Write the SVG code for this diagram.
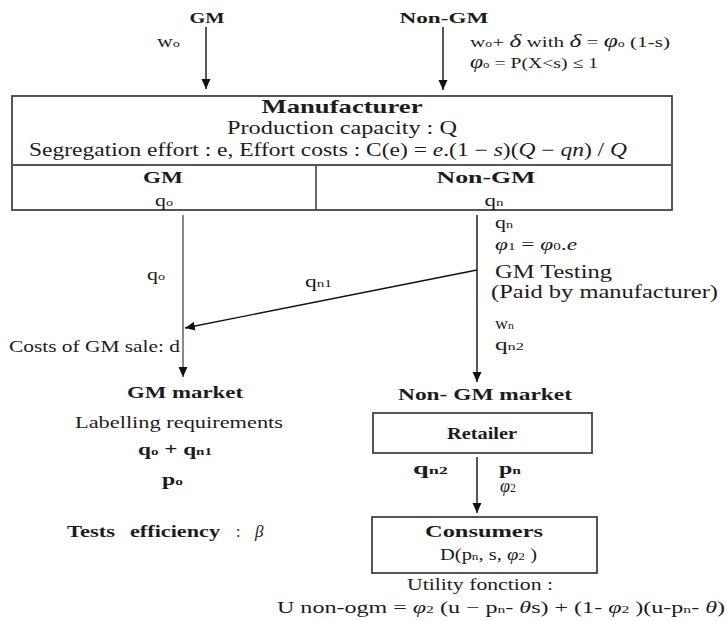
<svg xmlns="http://www.w3.org/2000/svg" width="728" height="621" viewBox="0 0 728 621">
<style>
text{font-family:"Liberation Serif","Times New Roman",serif;fill:#1c1c1c}
.b{font-weight:bold}
.i{font-style:italic}
.s{font-size:65%}
.box{fill:#fff;stroke:#444;stroke-width:1.8}
.div{stroke:#555;stroke-width:1.8}
.c{stroke:#111;stroke-width:1.4;fill:none}
.g{stroke:#8a8a8a;stroke-width:2;fill:none}
</style>
<defs>
<marker id="ah" markerUnits="userSpaceOnUse" markerWidth="10" markerHeight="10" refX="10" refY="5" orient="auto">
<path d="M0,0.5 L10,5 L0,9.5 z" fill="#111"/>
</marker>
</defs>
<rect width="728" height="621" fill="#fff"/>

<g id="gm-source">
<text class="b" x="207" y="23" font-size="14" text-anchor="middle" textLength="35" lengthAdjust="spacingAndGlyphs">GM</text>
</g>
<g id="nongm-source">
<text class="b" x="444" y="23" font-size="14" text-anchor="middle" textLength="89" lengthAdjust="spacingAndGlyphs">Non-GM</text>
</g>

<g id="manufacturer">
<rect class="box" x="12" y="96" width="660" height="114"/>
<line class="div" x1="12" y1="165" x2="672" y2="165"/>
<line class="div" x1="316" y1="165" x2="316" y2="210"/>
<text class="b" x="342" y="113" font-size="19" text-anchor="middle" textLength="161" lengthAdjust="spacingAndGlyphs">Manufacturer</text>
<text x="342" y="134" font-size="18" text-anchor="middle" textLength="230" lengthAdjust="spacingAndGlyphs">Production capacity : Q</text>
<text x="29" y="156" font-size="18" textLength="598" lengthAdjust="spacingAndGlyphs">Segregation effort : e, Effort costs : C(e) = <tspan class="i">e</tspan>.(1 − <tspan class="i">s</tspan>)(<tspan class="i">Q</tspan> − <tspan class="i">qn</tspan>) / <tspan class="i">Q</tspan></text>
<text class="b" x="163" y="183" font-size="17" text-anchor="middle" textLength="40" lengthAdjust="spacingAndGlyphs">GM</text>
<text x="164" y="206" font-size="17" text-anchor="middle" textLength="18" lengthAdjust="spacingAndGlyphs">q<tspan class="s">o</tspan></text>
<text class="b" x="486" y="183" font-size="17" text-anchor="middle" textLength="99" lengthAdjust="spacingAndGlyphs">Non-GM</text>
<text x="494" y="206" font-size="17" text-anchor="middle" textLength="19" lengthAdjust="spacingAndGlyphs">q<tspan class="s">n</tspan></text>
</g>

<g id="gm-market">
<text class="b" x="185" y="398" font-size="16" text-anchor="middle" textLength="116" lengthAdjust="spacingAndGlyphs">GM market</text>
<text x="75" y="428" font-size="16" textLength="208" lengthAdjust="spacingAndGlyphs">Labelling requirements</text>
<text class="b" x="138" y="455" font-size="16" textLength="74" lengthAdjust="spacingAndGlyphs">q<tspan class="s">o</tspan> + q<tspan class="s">n1</tspan></text>
<text class="b" x="162" y="485" font-size="16" textLength="21" lengthAdjust="spacingAndGlyphs">p<tspan class="s">o</tspan></text>
<text class="b" x="67" y="537" font-size="16" textLength="48" lengthAdjust="spacingAndGlyphs">Tests</text>
<text class="b" x="130" y="537" font-size="16" textLength="90" lengthAdjust="spacingAndGlyphs">efficiency</text>
<text x="236" y="537" font-size="16">:</text>
<text class="i" x="255" y="537" font-size="17">β</text>
</g>

<g id="nongm-market">
<text class="b" x="485" y="400" font-size="16" text-anchor="middle" textLength="174" lengthAdjust="spacingAndGlyphs">Non- GM market</text>
</g>

<g id="retailer">
<rect class="box" x="373" y="413" width="219" height="40"/>
<text class="b" x="482" y="439" font-size="17" text-anchor="middle" textLength="70" lengthAdjust="spacingAndGlyphs">Retailer</text>
</g>

<g id="consumers">
<rect class="box" x="372" y="517" width="225" height="56"/>
<text class="b" x="484" y="537" font-size="17" text-anchor="middle" textLength="118" lengthAdjust="spacingAndGlyphs">Consumers</text>
<text x="440" y="560" font-size="16" textLength="97" lengthAdjust="spacingAndGlyphs">D(p<tspan class="s">n</tspan>, s, <tspan class="i">φ</tspan><tspan class="s">2</tspan> )</text>
<text x="480" y="590" font-size="16" text-anchor="middle" textLength="146" lengthAdjust="spacingAndGlyphs">Utility fonction :</text>
<text x="277" y="613" font-size="16" textLength="448" lengthAdjust="spacingAndGlyphs">U non-ogm =  <tspan class="i">φ</tspan><tspan class="s">2</tspan> (u − p<tspan class="s">n</tspan>-  <tspan class="i">θ</tspan>s) + (1- <tspan class="i">φ</tspan><tspan class="s">2</tspan> )(u-p<tspan class="s">n</tspan>- <tspan class="i">θ</tspan>)</text>
</g>

<g id="connectors">
<line class="c" x1="206" y1="27" x2="206" y2="89" marker-end="url(#ah)"/>
<line class="c" x1="443" y1="27" x2="443" y2="90" marker-end="url(#ah)"/>
<line class="g" x1="183" y1="215" x2="183" y2="377" marker-end="url(#ah)"/>
<line class="c" x1="477" y1="215" x2="477" y2="382" marker-end="url(#ah)"/>
<line class="c" x1="477" y1="270" x2="185" y2="328" marker-end="url(#ah)"/>
<line class="c" x1="477" y1="457" x2="477" y2="513" marker-end="url(#ah)"/>
</g>

<g id="labels">
<text x="157" y="47" font-size="16" textLength="23" lengthAdjust="spacingAndGlyphs">w<tspan class="s">o</tspan></text>
<text x="470" y="47" font-size="15" textLength="200" lengthAdjust="spacingAndGlyphs">w<tspan class="s">o</tspan>+  <tspan class="i" font-size="18">δ</tspan> with <tspan class="i" font-size="18">δ</tspan> = <tspan class="i" font-size="18">φ</tspan><tspan class="s">o</tspan> (1-s)</text>
<text x="470" y="68" font-size="15" textLength="128" lengthAdjust="spacingAndGlyphs"><tspan class="i" font-size="18">φ</tspan><tspan class="s">o</tspan> = P(X&lt;s) ≤ 1</text>
<text x="147" y="280" font-size="17" textLength="18" lengthAdjust="spacingAndGlyphs">q<tspan class="s">o</tspan></text>
<text x="305" y="287" font-size="16" textLength="27" lengthAdjust="spacingAndGlyphs">q<tspan class="s">n1</tspan></text>
<text x="9" y="352" font-size="16" textLength="171" lengthAdjust="spacingAndGlyphs">Costs of GM sale: d</text>
<text x="495" y="228" font-size="17" textLength="18" lengthAdjust="spacingAndGlyphs">q<tspan class="s">n</tspan></text>
<text x="495" y="250" font-size="17" textLength="82" lengthAdjust="spacingAndGlyphs"><tspan class="i">φ</tspan><tspan class="s">1</tspan> = <tspan class="i">φ</tspan><tspan class="s">0</tspan>.<tspan class="i">e</tspan></text>
<text x="495" y="278" font-size="18" textLength="117" lengthAdjust="spacingAndGlyphs">GM Testing</text>
<text x="491" y="298" font-size="18" textLength="227" lengthAdjust="spacingAndGlyphs">(Paid by manufacturer)</text>
<text x="495" y="329" font-size="17" textLength="19" lengthAdjust="spacingAndGlyphs">w<tspan class="s">n</tspan></text>
<text x="495" y="350" font-size="17" textLength="29" lengthAdjust="spacingAndGlyphs">q<tspan class="s">n2</tspan></text>
<text class="b" x="413" y="474" font-size="16" textLength="35" lengthAdjust="spacingAndGlyphs">q<tspan class="s">n2</tspan></text>
<text class="b" x="499" y="474" font-size="16" textLength="22" lengthAdjust="spacingAndGlyphs">p<tspan class="s">n</tspan></text>
<text class="i" x="500" y="492" font-size="18">φ<tspan class="s" font-style="normal">2</tspan></text>
</g>
</svg>
